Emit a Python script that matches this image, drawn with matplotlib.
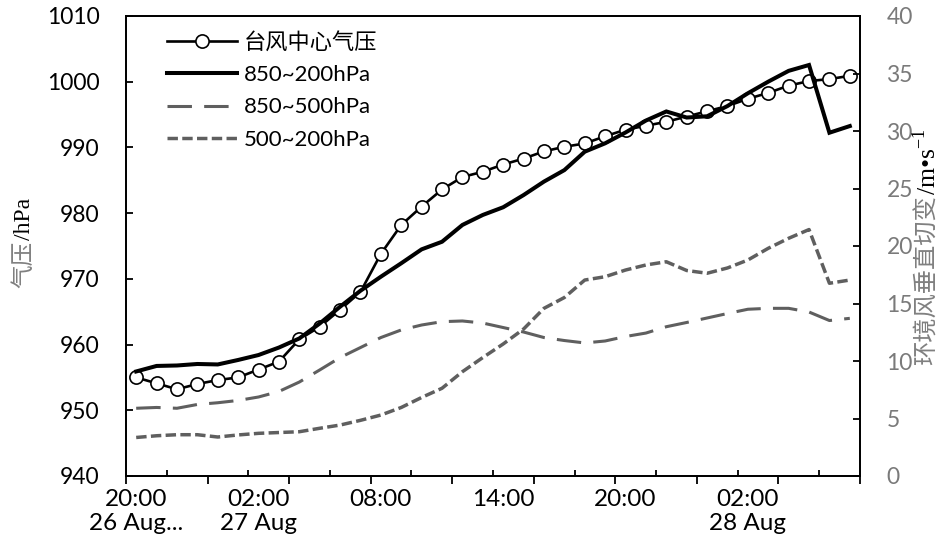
import matplotlib
matplotlib.use("Agg")
import matplotlib.pyplot as plt
import numpy as np

plt.rcParams['font.family'] = ['Lato', 'Noto Sans CJK SC', 'DejaVu Sans']
plt.rcParams['mathtext.fontset'] = 'custom'
plt.rcParams['mathtext.rm'] = 'Liberation Serif'

# ── Data (hourly, 20:00 26 Aug -> 07:00 28 Aug) ──
hours = np.arange(36)
pressure = [955.0, 954.1, 953.2, 954.0, 954.6, 955.0, 956.2, 957.4, 960.8, 962.7,
            965.3, 968.0, 973.8, 978.2, 981.0, 983.6, 985.5, 986.3, 987.4, 988.3,
            989.4, 990.1, 990.6, 991.7, 992.7, 993.3, 993.9, 994.7, 995.5, 996.3,
            997.4, 998.3, 999.4, 1000.1, 1000.4, 1000.9]
shear_850_200 = [9.09, 9.57, 9.61, 9.74, 9.70, 10.09, 10.52, 11.17, 11.96, 13.26,
                 14.72, 16.11, 17.33, 18.5, 19.71, 20.37, 21.83, 22.7, 23.37, 24.43,
                 25.6, 26.6, 28.2, 28.93, 29.87, 30.91, 31.7, 31.17, 31.28, 32.17,
                 33.28, 34.29, 35.23, 35.74, 29.85, 30.43]
shear_850_500 = [5.89, 5.96, 5.89, 6.22, 6.37, 6.57, 6.87, 7.35, 8.17, 9.22,
                 10.3, 11.17, 12.04, 12.7, 13.13, 13.42, 13.48, 13.3, 12.91, 12.52,
                 12.04, 11.78, 11.57, 11.74, 12.13, 12.43, 12.98, 13.35, 13.74, 14.13,
                 14.5, 14.58, 14.58, 14.26, 13.52, 13.71]
shear_500_200 = [3.35, 3.5, 3.59, 3.59, 3.39, 3.57, 3.71, 3.78, 3.85, 4.15,
                 4.43, 4.84, 5.3, 5.96, 6.83, 7.63, 9.07, 10.3, 11.48, 12.78,
                 14.58, 15.52, 17.04, 17.33, 17.91, 18.35, 18.63, 17.87, 17.63, 18.09,
                 18.78, 19.8, 20.67, 21.43, 16.76, 17.04]

label_pos = [0, 6, 12, 18, 24, 30]
label_txt = ['20:00\n26 Aug...', '02:00\n27 Aug', '08:00', '14:00', '20:00', '02:00\n28 Aug']
names = ['台风中心气压', '850~200hPa', '850~500hPa', '500~200hPa']

GRAY = '#5f5f5f'
W, H = 943, 552
fig = plt.figure(figsize=(W / 100, H / 100), dpi=100)
ax = fig.add_axes([126 / W, 1 - 476 / H, 734 / W, 460 / H])
ax2 = ax.twinx()

# ── Lines ──
l0, = ax.plot(hours, pressure, color='black', lw=1.9, marker='o', ms=9.5,
              mfc='white', mec='black', mew=1.2, zorder=3)
l1, = ax2.plot(hours, shear_850_200, color='black', lw=2.9, solid_joinstyle='miter')
l2, = ax2.plot(hours, shear_850_500, color=GRAY, lw=2.2, dashes=(8, 4))
l3, = ax2.plot(hours, shear_500_200, color=GRAY, lw=2.5, dashes=(3.0, 1.25))

# ── Axes ──
ax.set_xlim(-0.5, 35.5)
ax.set_ylim(940, 1010)
ax.set_yticks(np.arange(940, 1011, 10))
ax2.set_ylim(0, 40)
ax2.set_yticks(np.arange(0, 41, 5))

ax.set_xticks(label_pos, labels=label_txt)
ax.set_xticks(np.arange(-0.5, 36, 4), minor=True)
ax.tick_params(axis='x', which='major', length=0, pad=9, labelsize=17.5,
               labelcolor='black')
ax.tick_params(axis='x', which='minor', direction='out', length=6, width=1.3)
sec = ax.secondary_xaxis('bottom')
sec.set_xticks(np.arange(1.5, 36, 4), labels=[''] * 9)
sec.tick_params(direction='in', length=4.5, width=1.3)
sec.spines['bottom'].set_visible(False)

ax.tick_params(axis='y', direction='in', length=5, width=1.3, pad=19,
               labelsize=16.5, labelcolor='black')
ax2.tick_params(axis='y', direction='in', length=5, width=1.3, pad=19,
                labelsize=16.5, labelcolor='#7a7a7a')
for a in (ax, ax2):
    for s in a.spines.values():
        s.set_linewidth(1.3)

for t in ax.get_xticklabels():
    t.set_linespacing(1.2)

# ── Legend ──
ax2.legend([l0, l1, l2, l3], names, loc='upper left', frameon=False,
           bbox_to_anchor=(0.056, 0.966), borderpad=0, borderaxespad=0,
           handlelength=3.15, handletextpad=0.3, labelspacing=0.56,
           prop={'size': 16})

# ── Axis titles (mixed colour / font) ──
def stacked_label(parts, x_px, yc_px):
    texts = [fig.text(0, 0, s, rotation=90, ha='center', va='bottom', **kw)
             for s, kw in parts]
    fig.canvas.draw()
    r = fig.canvas.get_renderer()
    hs = [t.get_window_extent(r).height for t in texts]
    y = yc_px - sum(hs) / 2
    for t, h in zip(texts, hs):
        t.set_position((x_px / W, y / H))
        y += h

stacked_label([('气压', dict(color='#808080', fontsize=17, family='Noto Sans CJK SC')),
               ('/hPa', dict(color='black', fontsize=17, family='Liberation Serif'))],
              24, H - 243)
stacked_label([('环境风垂直切变', dict(color='#808080', fontsize=17.5, family='Noto Sans CJK SC')),
               ('/m•s$^{-1}$', dict(color='black', fontsize=18.5, family='Liberation Serif'))],
              927, H - 247)

fig.savefig('out.png', dpi=100, facecolor='white')
